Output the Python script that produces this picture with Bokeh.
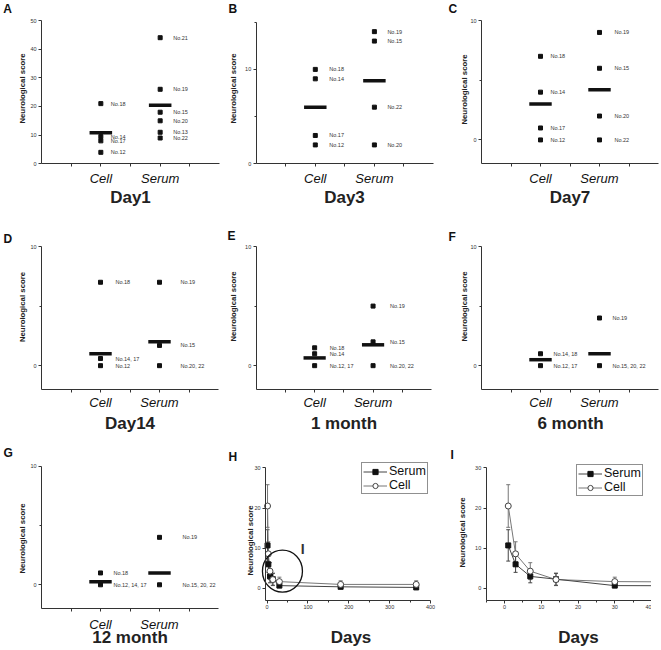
import math
from bokeh.plotting import figure
from bokeh.layouts import column, row
from bokeh.models import (FixedTicker, Label, Whisker, ColumnDataSource, Legend,
                          LegendItem, TeeHead, Range1d)
from bokeh.embed import file_html
from bokeh.resources import INLINE
from bokeh.core.properties import value

FONT = "Liberation Sans"
GROUP_NAMES = ["Cell", "Serum"]
GROUP_POS = [1, 2]

# ---------------- data: individual scores ----------------
A_cell_scores = [21, 9.5, 8, 4]
A_cell_ids = ["No.18", "No.14", "No.17", "No.12"]
A_serum_scores = [44, 26, 18, 15, 11, 9]
A_serum_ids = ["No.21", "No.19", "No.15", "No.20", "No.13", "No.22"]
A_means = [10.8, 20.4]

B_cell_scores = [10, 9, 3, 2]
B_cell_ids = ["No.18", "No.14", "No.17", "No.12"]
B_serum_scores = [14, 13, 6, 2]
B_serum_ids = ["No.19", "No.15", "No.22", "No.20"]
B_means = [6.0, 8.8]

C_cell_scores = [7, 4, 1, 0]
C_cell_ids = ["No.18", "No.14", "No.17", "No.12"]
C_serum_scores = [9, 6, 2, 0]
C_serum_ids = ["No.19", "No.15", "No.20", "No.22"]
C_means = [3.0, 4.2]

D_cell_scores = [7, 0.6, 0]
D_cell_ids = ["No.18", "No.14, 17", "No.12"]
D_serum_scores = [7, 1.7, 0]
D_serum_ids = ["No.19", "No.15", "No.20, 22"]
D_means = [1.0, 2.0]

E_cell_scores = [1.5, 1.0, 0]
E_cell_ids = ["No.18", "No.14", "No.12, 17"]
E_serum_scores = [5, 2, 0]
E_serum_ids = ["No.19", "No.15", "No.20, 22"]
E_means = [0.65, 1.75]

F_cell_scores = [1, 0]
F_cell_ids = ["No.14, 18", "No.12, 17"]
F_serum_scores = [4, 0]
F_serum_ids = ["No.19", "No.15, 20, 22"]
F_means = [0.5, 1.0]

G_cell_scores = [1, 0]
G_cell_ids = ["No.18", "No.12, 14, 17"]
G_serum_scores = [4, 0]
G_serum_ids = ["No.19", "No.15, 20, 22"]
G_means = [0.25, 1.0]

# ---------------- data: time course ----------------
days = [1, 3, 7, 14, 30, 180, 365]
serum_mean = [10.7, 6.0, 3.0, 2.3, 0.7, 0.4, 0.25]
serum_err = [3.9, 2.0, 1.6, 1.5, 0.2, 0.2, 0.2]
cell_mean = [20.5, 8.6, 4.3, 2.2, 1.7, 1.0, 1.0]
cell_err = [5.3, 3.0, 2.1, 1.5, 1.1, 0.9, 0.9]

Y_LABEL = "Neurological score"
X_LABEL_TIME = "Days"
AXC = "#333333"


class Panel:
    """Figure whose whole canvas is the frame; axes are pinned inside it."""

    def __init__(self, fig_left, fig_top, fig_w, fig_h, px_box, data_box):
        self.x0p, self.x1p, self.y0p, self.y1p = px_box
        self.xmin, self.xmax, self.ymin, self.ymax = data_box
        self.sx = (self.x1p - self.x0p) / (self.xmax - self.xmin)
        self.sy = (self.y1p - self.y0p) / (self.ymax - self.ymin)
        xr = Range1d(self.xmin - (self.x0p - fig_left) / self.sx,
                     self.xmax + (fig_left + fig_w - self.x1p) / self.sx)
        yr = Range1d(self.ymin - (fig_top + fig_h - self.y1p) / self.sy,
                     self.ymax + (self.y0p - fig_top) / self.sy)
        p = figure(width=fig_w, height=fig_h, x_range=xr, y_range=yr,
                   output_backend="svg", toolbar_location=None,
                   min_border_left=0, min_border_right=0, min_border_top=0,
                   min_border_bottom=0, background_fill_color="white",
                   border_fill_color="white")
        p.outline_line_color = None
        p.xgrid.visible = False
        p.ygrid.visible = False
        xa, ya = p.xaxis[0], p.yaxis[0]
        xa.fixed_location = self.ymin
        xa.bounds = (self.xmin, self.xmax)
        ya.fixed_location = self.xmin
        ya.bounds = (self.ymin, self.ymax)
        for ax in (xa, ya):
            ax.axis_line_color = AXC
            ax.major_tick_line_color = AXC
            ax.minor_tick_line_color = AXC
            ax.major_tick_in = 0
            ax.major_tick_out = 3
            ax.minor_tick_in = 0
            ax.minor_tick_out = 2
            ax.major_label_text_font = FONT
            ax.major_label_text_font_size = "5.5px"
            ax.major_label_text_color = "#333333"
        ya.major_label_standoff = 2
        xa.major_label_standoff = 1
        self.p = p

    def data_xy(self, px, py):
        return (self.xmin + (px - self.x0p) / self.sx,
                self.ymax - (py - self.y0p) / self.sy)

    def text(self, px, py, txt, size, style="normal", align="center",
             angle=0.0, color="#111111"):
        x, y = self.data_xy(px, py)
        self.p.add_layout(Label(x=x, y=y, text=txt, text_font=FONT,
                                text_font_size=size, text_font_style=style,
                                text_align=align, text_baseline="middle",
                                angle=angle, text_color=color))


def dot_panel(fig_pos, px_box, yr, yticks, yminor, cell_s, cell_ids, serum_s,
              serum_ids, means, title, letter, letter_pos, ylab_pos, title_pos,
              lab_off, xlab_so):
    fl, ft, fw, fh = fig_pos
    pn = Panel(fl, ft, fw, fh, px_box, (0, 3, yr[0], yr[1]))
    p = pn.p
    xa = p.xaxis[0]
    xa.ticker = FixedTicker(ticks=GROUP_POS, minor_ticks=[0.5, 1.5, 2.5])
    xa.minor_tick_out = 3
    xa.major_label_overrides = {g: n for g, n in zip(GROUP_POS, GROUP_NAMES)}
    xa.major_label_text_font_size = "13px"
    xa.major_label_text_font_style = "italic"
    xa.major_label_text_color = "#111111"
    xa.major_label_standoff = xlab_so
    p.yaxis[0].ticker = FixedTicker(ticks=yticks, minor_ticks=yminor)

    half = 0.19
    p.segment(x0=[g - half for g in GROUP_POS], x1=[g + half for g in GROUP_POS],
              y0=means, y1=means, line_width=3.5, line_color="#111111",
              line_cap="butt")
    for g, vals, ids, off in ((GROUP_POS[0], cell_s, cell_ids, lab_off[0]),
                              (GROUP_POS[1], serum_s, serum_ids, lab_off[1])):
        xs = [g] * len(vals)
        p.scatter(x=xs, y=vals, marker="square", size=4, color="#111111")
        p.text(x=xs, y=vals, text=ids, x_offset=off,
               text_font=value(FONT), text_font_size=value("5.5px"),
               text_baseline="middle", text_align="left", text_color="#333333")
    pn.text(*letter_pos, letter, "12px", "bold", "left")
    pn.text(*ylab_pos, Y_LABEL, "7.8px", "bold", "center", math.pi / 2, "#222222")
    pn.text(*title_pos, title, "17px", "bold", "center", 0.0, "#222222")
    return p


def time_panel(fig_pos, px_box, xr, xticks, xminor, letter, letter_pos,
               ylab_pos, title_pos, leg_loc, circle=False):
    fl, ft, fw, fh = fig_pos
    pn = Panel(fl, ft, fw, fh, px_box, (xr[0], xr[1], -3, 30))
    p = pn.p
    p.xaxis[0].ticker = FixedTicker(ticks=xticks, minor_ticks=xminor)
    p.yaxis[0].ticker = FixedTicker(ticks=[0, 10, 20, 30], minor_ticks=[])

    srcs = ColumnDataSource(dict(x=days, y=serum_mean,
                                 lo=[m - e for m, e in zip(serum_mean, serum_err)],
                                 hi=[m + e for m, e in zip(serum_mean, serum_err)]))
    srcc = ColumnDataSource(dict(x=days, y=cell_mean,
                                 lo=[m - e for m, e in zip(cell_mean, cell_err)],
                                 hi=[m + e for m, e in zip(cell_mean, cell_err)]))
    for s, col in ((srcc, "#777777"), (srcs, "#444444")):
        p.add_layout(Whisker(source=s, base="x", upper="hi", lower="lo",
                             line_color=col, line_width=1,
                             upper_head=TeeHead(size=4, line_color=col),
                             lower_head=TeeHead(size=4, line_color=col)))
    lc = p.line("x", "y", source=srcc, line_color="#777777", line_width=1)
    ls = p.line("x", "y", source=srcs, line_color="#444444", line_width=1)
    ms = p.scatter("x", "y", source=srcs, marker="square", size=5,
                   fill_color="#111111", line_color="#111111")
    mc = p.scatter("x", "y", source=srcc, marker="circle", size=6,
                   fill_color="white", line_color="#444444")
    leg = Legend(items=[LegendItem(label="Serum", renderers=[ls, ms]),
                        LegendItem(label="Cell", renderers=[lc, mc])],
                 location=leg_loc)
    leg.label_text_font = FONT
    leg.label_text_font_size = "12.5px"
    leg.label_text_color = "#111111"
    leg.glyph_width = 24
    leg.glyph_height = 13
    leg.label_height = 13
    leg.label_standoff = 2
    leg.padding = 1
    leg.spacing = 0
    leg.margin = 0
    leg.border_line_color = "#222222"
    leg.border_line_width = 1
    leg.background_fill_alpha = 1
    p.add_layout(leg)
    if circle:
        zoom_x = [37.5]
        zoom_y = [4.3]
        p.ellipse(x=zoom_x, y=zoom_y, width=40, height=42, width_units="screen",
                  height_units="screen", fill_color=None, line_color="#111111",
                  line_width=1.3)
        p.add_layout(Label(x=87, y=9.7, text="I", text_font=FONT,
                           text_font_size="14px", text_font_style="bold",
                           text_align="center", text_baseline="middle",
                           text_color="#333333"))
    pn.text(*letter_pos, letter, "12px", "bold", "left")
    pn.text(*ylab_pos, Y_LABEL, "7.8px", "bold", "center", math.pi / 2, "#222222")
    pn.text(*title_pos, X_LABEL_TIME, "17px", "bold", "center", 0.0, "#222222")
    return p


Y50 = ([0, 10, 20, 30, 40, 50], [])
Y10 = ([0, 10], [5])
R1, R2, R3 = (0, 210), (210, 228), (438, 212)   # (top, height) of each row

pA = dot_panel((0, R1[0], 220, R1[1]), (41, 219, 20, 163.3), (0, 50), *Y50,
               A_cell_scores, A_cell_ids, A_serum_scores, A_serum_ids, A_means,
               "Day1", "A", (2.7, 8.7), (21.7, 88), (130, 196.7), (10, 13), 4)
pB = dot_panel((220, R1[0], 220, R1[1]), (255.7, 433, 21.7, 163.3), (0, 15),
               [0, 10], [5, 15], B_cell_scores, B_cell_ids, B_serum_scores,
               B_serum_ids, B_means, "Day3", "B", (228, 8.7), (233.3, 88),
               (344, 196.7), (14, 13), 4)
pC = dot_panel((440, R1[0], 221, R1[1]), (481, 658, 20, 163.3), (-2, 10), *Y10,
               C_cell_scores, C_cell_ids, C_serum_scores, C_serum_ids, C_means,
               "Day7", "C", (448, 8.7), (464, 89), (569.5, 196.7), (10, 15), 4)
pD = dot_panel((0, R2[0], 220, R2[1]), (41, 218, 246, 389), (-2, 10), *Y10,
               D_cell_scores, D_cell_ids, D_serum_scores, D_serum_ids, D_means,
               "Day14", "D", (3, 238.5), (21.7, 306.5), (129.5, 423), (15, 21), 2)
pE = dot_panel((220, R2[0], 220, R2[1]), (255.7, 431, 246, 389), (-2, 10), *Y10,
               E_cell_scores, E_cell_ids, E_serum_scores, E_serum_ids, E_means,
               "1 month", "E", (227, 235.5), (232.5, 306), (343.5, 423), (15, 17), 2)
pF = dot_panel((440, R2[0], 221, R2[1]), (481, 658, 246, 389), (-2, 10), *Y10,
               F_cell_scores, F_cell_ids, F_serum_scores, F_serum_ids, F_means,
               "6 month", "F", (448, 236), (464, 306), (570, 423), (13, 13), 2)
pG = dot_panel((0, R3[0], 220, R3[1]), (41, 218, 465.7, 608), (-2, 10), *Y10,
               G_cell_scores, G_cell_ids, G_serum_scores, G_serum_ids, G_means,
               "12 month", "G", (3, 452), (21.7, 538), (129.5, 636.5), (13, 23), 5)
pH = time_panel((220, R3[0], 220, R3[1]), (265, 430, 467.3, 600), (-4, 400),
                [0, 100, 200, 300, 400], [50, 150, 250, 350], "H", (228, 456.5),
                (249.5, 540), (350.5, 636.7), (141, 156), circle=True)
pI = time_panel((440, R3[0], 211, R3[1]), (485.7, 651, 467.3, 600), (-5, 40),
                [0, 10, 20, 30, 40], [-5, 5, 15, 25, 35], "I", (450, 454.5),
                (462, 532), (578, 636.7), (136, 154))

root = column(row(pA, pB, pC, spacing=0), row(pD, pE, pF, spacing=0),
              row(pG, pH, pI, spacing=0), spacing=0)

open("out.html", "w").write(file_html(root, INLINE))
